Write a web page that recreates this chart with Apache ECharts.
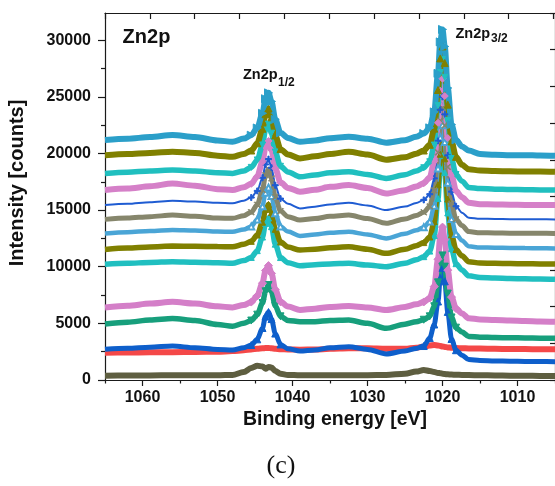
<!DOCTYPE html>
<html>
<head>
<meta charset="utf-8">
<script src="https://cdn.jsdelivr.net/npm/echarts@6/dist/echarts.min.js"></script>
<style>
  html, body { margin: 0; padding: 0; background: #fff; }
  #chart { width: 555px; height: 486px; }
</style>
</head>
<body>
<div id="chart"></div>
<script>
// Binding energy grid (eV), shared by all spectra; denser around the two Zn 2p peaks
const bindingEnergy = [1065, 1062, 1059, 1056, 1053, 1050, 1048,
  1046.5, 1045.5, 1044.7, 1044.0, 1043.6, 1043.2, 1042.8, 1042.3, 1041.6, 1040.6,
  1039, 1037, 1035, 1032.5, 1030, 1027.5,
  1025, 1023.5, 1022.5, 1021.7, 1021.1, 1020.6, 1020.3, 1020.0, 1019.7, 1019.3, 1018.8, 1018.2, 1017.4, 1016.5,
  1015, 1013, 1011, 1009, 1007, 1005];

// Intensity [counts], one array per spectrum, top to bottom
const spectrumA = [21180,21300,21450,21620,21450,21150,21030, 21310,21610,22250,23540,24830,25350,24590,23010,21820,21360, 21030,21150,21350,21470,21300,20950, 21160,21470,21760,22260,23670,27070,29850,30950,29440,25780,22550,21200,20620,20260, 19950,19880,19850,19850,19820,19800];
const spectrumB = [19850,19950,20050,20150,20050,19800,19700, 19960,20260,20900,22180,23460,23970,23190,21590,20380,19910, 19560,19750,19950,20150,19900,19450, 19660,19980,20260,20770,22190,25600,28390,29450,27980,24310,21060,19700,19000,18600, 18500,18450,18420,18400,18400,18380];
const spectrumC = [18240,18350,18450,18530,18450,18300,18240, 18460,18770,19430,20750,22070,22600,21790,20130,18870,18370, 17940,18100,18300,18380,18150,17800, 18120,18450,18740,19270,20740,24240,27140,28300,26720,22920,19550,18140,17550,17000, 16900,16850,16820,16800,16780,16770];
const spectrumD = [16770,16900,17100,17350,17150,16850,16770, 17010,17320,17970,19270,20580,21100,20310,18680,17450,16960, 16620,16800,17050,17210,16950,16470, 16760,17080,17370,17880,19310,22710,25530,26600,25070,21360,18080,16710,16130,15650, 15520,15500,15480,15460,15450,15440];
const spectrumE = [15440,15550,15700,15820,15750,15650,15600, 15830,16110,16690,17860,19030,19500,18740,17190,16010,15550, 15150,15300,15500,15650,15400,15000, 15310,15620,15900,16400,17800,21110,23860,25000,23450,19830,16630,15340,14770,14320, 14230,14220,14200,14200,14190,14180];
const spectrumF = [14180,14300,14420,14560,14450,14300,14270, 14510,14820,15470,16770,18080,18600,17800,16150,14910,14420, 14120,14250,14450,14560,14250,13830, 14210,14530,14810,15320,16740,20100,22890,24000,22480,18810,15560,14200,13630,13100, 13000,12980,12960,12950,12950,12940];
const spectrumG = [12940,13050,13150,13240,13200,13100,13090, 13290,13560,14160,15340,16530,17000,16250,14720,13560,13100, 12710,12850,13000,13090,12850,12500, 12910,13220,13490,13990,15380,18680,21410,22500,21010,17410,14220,12880,12320,11800, 11700,11680,11660,11650,11630,11620];
const spectrumH = [11530,11650,11750,11820,11800,11780,11760, 11980,12240,12800,13930,15050,15500,14780,13300,12180,11740, 11470,11550,11680,11760,11550,11180, 11550,11860,12130,12620,13990,17240,19930,21000,19530,15980,12830,11520,10960,10450, 10320,10300,10280,10260,10250,10240];
const spectrumI = [10210,10300,10380,10440,10400,10350,10300, 10540,10820,11420,12620,13820,14300,13540,11990,10810,10350, 10090,10180,10250,10300,10150,10000, 10300,10610,10890,11380,12750,16020,18730,19800,18320,14750,11590,10270,9710,9200, 9050,9000,8960,8930,8910,8890];
const spectrumJ = [6410,6550,6750,6900,6750,6500,6410, 6620,6880,7440,8550,9660,10100,9410,7980,6910,6480, 6180,6300,6450,6530,6400,6180, 6450,6680,6890,7240,8250,10660,12690,13500,12390,9700,7320,6310,5880,5450, 5350,5300,5250,5200,5170,5150];
const spectrumK = [4940,5100,5300,5440,5250,4900,4750, 5010,5250,5770,6800,7840,8380,7780,6550,5620,5250, 5150,5150,5250,5290,5000,4560, 4930,5140,5320,5620,6510,8620,10350,11000,10010,7630,5520,4620,4240,3850, 3780,3750,3730,3710,3690,3680];
const spectrumL = [2710,2800,2900,3000,2850,2700,2650, 2850,3090,3590,4590,5600,6000,5380,4100,3140,2760, 2550,2650,2850,2940,2700,2300, 2560,2790,3000,3700,4900,6930,9010,9900,8710,6010,3620,2630,2190,1800, 1720,1680,1660,1640,1630,1620];
const spectrumM = [2410,2420,2440,2460,2480,2500,2550, 2620,2700,2760,2800,2820,2830,2800,2760,2720,2700, 2680,2700,2750,2800,2800,2760, 2750,2850,2950,3050,3080,3050,3000,2960,2920,2880,2850,2820,2800,2790, 2770,2750,2740,2730,2720,2710];
const spectrumN = [380,390,400,420,420,420,450, 700,1050,1250,1200,1000,1150,1100,800,550,450, 420,420,420,430,430,450, 550,750,880,800,700,620,600,560,530,500,480,460,450,440, 420,400,380,370,360,350];

// Axis tick values
const energyLabels = [1060, 1050, 1040, 1030, 1020, 1010];
const energyMinorTicks = [1065, 1055, 1045, 1035, 1025, 1015, 1005];
const countLabels = [0, 5000, 10000, 15000, 20000, 25000, 30000];
const countMinorTicks = [2500, 7500, 12500, 17500, 22500, 27500];

const PLUS = 'path://M4,0H6V4H10V6H6V10H4V6H0V4H4Z';
const CROSS = 'path://M1,0L5,4L9,0L10,1L6,5L10,9L9,10L5,6L1,10L0,9L4,5L0,1Z';

// markers are drawn only on the steep flanks of the peaks; elsewhere the dense band hides them
function onPeak(e) {
  return (e <= 1045.5 && e >= 1041.6) || (e <= 1022.5 && e >= 1018.2);
}

// drawing order: bottom spectrum first so upper ones sit on top
const traces = [
  { name: 'N', data: spectrumN, color: '#5e5e40', symbol: 'rect', size: 5, width: 6, marks: false },
  { name: 'M', data: spectrumM, color: '#f44848', symbol: 'circle', size: 5, width: 6, marks: false },
  { name: 'L', data: spectrumL, color: '#0e5fcb', symbol: 'triangle', size: 7, width: 5, marks: true },
  { name: 'K', data: spectrumK, color: '#179f7c', symbol: 'triangle', rotate: 180, size: 7, width: 5.5, marks: true },
  { name: 'J', data: spectrumJ, color: '#d47fc8', symbol: 'diamond', size: 8, width: 6, marks: true },
  { name: 'I', data: spectrumI, color: '#20bfc0', symbol: 'triangle', size: 6, width: 5.5, marks: true },
  { name: 'H', data: spectrumH, color: '#808000', symbol: 'triangle', size: 6, width: 5.5, marks: true },
  { name: 'G', data: spectrumG, color: '#4aa5d6', symbol: 'emptyTriangle', size: 6, width: 4.5, marks: true },
  { name: 'F', data: spectrumF, color: '#86866c', symbol: CROSS, size: 6, width: 5, marks: true },
  { name: 'E', data: spectrumE, color: '#1f5cd2', symbol: PLUS, size: 6, width: 2, marks: true },
  { name: 'D', data: spectrumD, color: '#d580c8', symbol: 'diamond', size: 7, width: 6, marks: true },
  { name: 'C', data: spectrumC, color: '#20bfbf', symbol: 'triangle', rotate: 180, size: 6, width: 5.5, marks: true },
  { name: 'B', data: spectrumB, color: '#808000', symbol: 'triangle', size: 7, width: 6, marks: true },
  { name: 'A', data: spectrumA, color: '#2b9fc9', symbol: 'triangle', rotate: -90, size: 8, width: 6, marks: true }
];

const series = traces.map(t => ({
  name: t.name,
  type: 'line',
  xAxisIndex: 0,
  yAxisIndex: 0,
  data: bindingEnergy.map((e, i) => ({
    value: [e, t.data[i]],
    symbol: (t.marks && onPeak(e)) ? t.symbol : 'none'
  })),
  smooth: 0.3,
  smoothMonotone: 'x',
  showSymbol: true,
  symbolRotate: t.rotate || 0,
  symbolSize: t.size,
  itemStyle: { color: t.color, borderColor: t.color },
  lineStyle: { color: t.color, width: t.width },
  emphasis: { disabled: true },
  animation: false
}));

const AXIS_COLOR = '#1a1a1a';
const LABEL_FONT = { color: '#111', fontSize: 16, fontWeight: 'bold', fontFamily: 'Liberation Sans, Arial, sans-serif' };
const plain = v => String(v);

const chart = echarts.init(document.getElementById('chart'), null, { renderer: 'canvas' });
chart.setOption({
  backgroundColor: '#fff',
  animation: false,
  grid: { left: 105, top: 13, width: 451.5, height: 367, containLabel: false },
  xAxis: [
    {
      type: 'value', position: 'bottom', inverse: true, min: 1005, max: 1065,
      axisLine: { show: true, onZero: false, lineStyle: { color: AXIS_COLOR, width: 1.2 } },
      axisTick: { show: true, inside: false, length: 6, customValues: energyLabels, lineStyle: { color: AXIS_COLOR, width: 1.2 } },
      axisLabel: Object.assign({ show: true, margin: 10, customValues: energyLabels, formatter: plain }, LABEL_FONT),
      splitLine: { show: false }
    },
    {
      type: 'value', position: 'bottom', inverse: true, min: 1005, max: 1065,
      axisLine: { show: false, onZero: false },
      axisTick: { show: true, inside: false, length: 3.5, customValues: energyMinorTicks, lineStyle: { color: AXIS_COLOR, width: 1.2 } },
      axisLabel: { show: false },
      splitLine: { show: false }
    },
    {
      type: 'value', position: 'top', min: 0, max: 10.033, interval: 1,
      axisLine: { show: true, onZero: false, lineStyle: { color: AXIS_COLOR, width: 1.2 } },
      axisTick: { show: true, inside: true, length: 6, lineStyle: { color: AXIS_COLOR, width: 1.2 } },
      axisLabel: { show: false },
      splitLine: { show: false }
    }
  ],
  yAxis: [
    {
      type: 'value', position: 'left', min: 0, max: 32400,
      axisLine: { show: true, onZero: false, lineStyle: { color: AXIS_COLOR, width: 1.2 } },
      axisTick: { show: true, inside: false, length: 7, customValues: countLabels, lineStyle: { color: AXIS_COLOR, width: 1.2 } },
      axisLabel: Object.assign({ show: true, margin: 14, customValues: countLabels, formatter: plain }, LABEL_FONT),
      splitLine: { show: false }
    },
    {
      type: 'value', position: 'left', min: 0, max: 32400,
      axisLine: { show: false, onZero: false },
      axisTick: { show: true, inside: false, length: 4, customValues: countMinorTicks, lineStyle: { color: AXIS_COLOR, width: 1.2 } },
      axisLabel: { show: false },
      splitLine: { show: false }
    },
    {
      type: 'value', position: 'right', min: 0, max: 10, interval: 1,
      axisLine: { show: true, onZero: false, lineStyle: { color: AXIS_COLOR, width: 1.2 } },
      axisTick: { show: true, inside: true, length: 5, lineStyle: { color: AXIS_COLOR, width: 1.2 } },
      axisLabel: { show: false },
      splitLine: { show: false }
    }
  ],
  series: series,
  graphic: [
    { type: 'text', x: 17.5, y: 183, rotation: Math.PI / 2,
      style: { text: 'Intensity [counts]', textAlign: 'center', textVerticalAlign: 'middle',
        font: 'bold 20px "Liberation Sans", Arial, sans-serif', fill: '#111' } },
    { type: 'text', x: 335, y: 420,
      style: { text: 'Binding energy [eV]', textAlign: 'center', textVerticalAlign: 'middle',
        font: 'bold 19.5px "Liberation Sans", Arial, sans-serif', fill: '#111' } },
    { type: 'text', x: 281, y: 466,
      style: { text: '(c)', textAlign: 'center', textVerticalAlign: 'middle',
        font: '26px "Liberation Serif", "DejaVu Serif", serif', fill: '#111' } },
    { type: 'text', x: 146.5, y: 37.5,
      style: { text: 'Zn2p', textAlign: 'center', textVerticalAlign: 'middle',
        font: 'bold 20px "Liberation Sans", Arial, sans-serif', fill: '#111' } },
    { type: 'text', x: 243, y: 74.5,
      style: { text: 'Zn2p', textAlign: 'left', textVerticalAlign: 'middle',
        font: 'bold 14.5px "Liberation Sans", Arial, sans-serif', fill: '#111' } },
    { type: 'text', x: 278, y: 83,
      style: { text: '1/2', textAlign: 'left', textVerticalAlign: 'middle',
        font: 'bold 12px "Liberation Sans", Arial, sans-serif', fill: '#111' } },
    { type: 'text', x: 455.5, y: 33.5,
      style: { text: 'Zn2p', textAlign: 'left', textVerticalAlign: 'middle',
        font: 'bold 14.5px "Liberation Sans", Arial, sans-serif', fill: '#111' } },
    { type: 'text', x: 491, y: 39,
      style: { text: '3/2', textAlign: 'left', textVerticalAlign: 'middle',
        font: 'bold 12px "Liberation Sans", Arial, sans-serif', fill: '#111' } }
  ]
});
</script>
</body>
</html>
